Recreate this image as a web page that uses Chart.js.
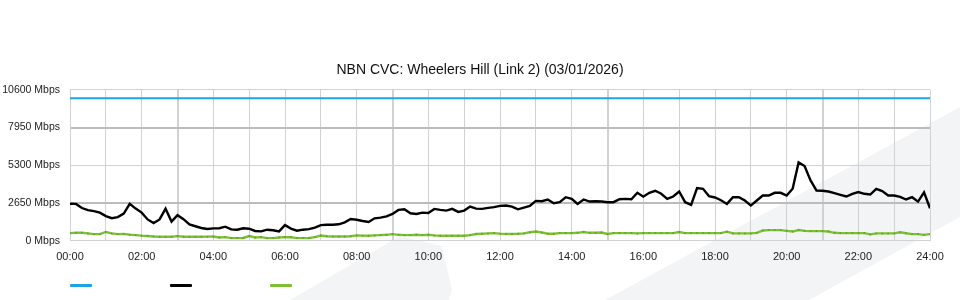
<!DOCTYPE html>
<html>
<head>
<meta charset="utf-8">
<title>NBN CVC: Wheelers Hill (Link 2)</title>
<script src="https://cdn.jsdelivr.net/npm/chart.js@4/dist/chart.umd.min.js"></script>
<style>
  html, body { margin:0; padding:0; background:#fff; }
  #wrap { position:relative; width:960px; height:300px; overflow:hidden; }
  .bg { position:absolute; left:0; top:0; width:960px; height:300px; background:#f3f4f6; }
  #bgA { clip-path: polygon(290px 300px, 400px 236px, 442px 246px, 452px 290px, 449px 300px); }
  #bgB { clip-path: polygon(605px 300px, 960px 107px, 960px 217px, 809px 300px); }
  #chart { position:absolute; left:0; top:0; }
  #legend { position:absolute; left:70px; top:284px; display:flex; }
  #legend span { display:block; width:22px; height:3px; margin-right:78px; border-radius:1px; }
</style>
</head>
<body>
<div id="wrap">
  <div class="bg" id="bgA"></div>
  <div class="bg" id="bgB"></div>
  <canvas id="chart" width="960" height="300"></canvas>
  <div id="legend"></div>
</div>
<script>
// samples every 10 minutes, 00:00 .. 24:00 (Mbps)
const STEP_MIN = 10;

const download = [
  2600,2590,2300,2150,2080,1980,
  1730,1590,1660,1910,2600,2260,
  1980,1500,1250,1500,2250,1350,
  1800,1520,1150,1020,900,830,
  870,880,990,800,780,880,
  850,690,660,780,740,660,
  1100,860,710,780,820,920,
  1100,1130,1130,1160,1300,1530,
  1480,1390,1320,1580,1625,1720,
  1885,2170,2210,1930,1885,1980,
  1955,2240,2170,2120,2240,2030,
  2120,2400,2260,2240,2310,2360,
  2450,2475,2400,2210,2330,2450,
  2800,2780,2900,2640,2710,3060,
  2945,2590,2900,2755,2780,2755,
  2710,2710,2920,2945,2920,3370,
  3100,3370,3510,3300,2945,3110,
  3460,2710,2520,3700,3650,3130,
  3040,2850,2590,3060,3060,2830,
  2475,2830,3180,3180,3370,3370,
  3180,3650,5500,5250,4240,3530,
  3510,3460,3350,3230,3110,3300,
  3420,3300,3250,3650,3490,3180,
  3180,3090,2900,3060,2750,3400,
  2285
];

const upload = [
  540,560,560,520,470,470,
  620,520,470,480,430,400,
  360,340,300,280,280,280,
  330,280,280,280,280,290,
  300,230,260,190,190,200,
  330,230,260,190,190,230,
  260,250,190,190,200,260,
  370,320,300,300,300,320,
  380,360,350,380,400,420,
  470,420,400,400,420,400,
  420,380,350,360,350,350,
  350,400,480,500,520,540,
  500,480,480,490,520,600,
  650,580,500,500,540,540,
  540,560,620,560,560,580,
  480,540,540,540,540,520,
  540,540,540,540,540,540,
  620,540,540,540,540,540,
  540,540,640,520,520,520,
  520,560,720,750,750,750,
  700,650,760,700,680,680,
  680,650,560,540,540,540,
  540,540,450,520,520,520,
  520,600,530,470,470,420,
  470
];

const capacity = 10000;

const hourLabels = ['00:00','02:00','04:00','06:00','08:00','10:00','12:00',
                    '14:00','16:00','18:00','20:00','22:00','24:00'];
const yTicks = [0, 2650, 5300, 7950, 10600];

const toXY = arr => arr.map((v, i) => ({ x: i * STEP_MIN, y: v }));

const FONT = "'Liberation Sans', Arial, sans-serif";
const grid = '#d2d2d2', gridMajor = '#bcbcbc';

const chart = new Chart(document.getElementById('chart'), {
  type: 'line',
  data: {
    datasets: [
      { label: 'Capacity', data: [{x:0, y:capacity}, {x:1440, y:capacity}],
        borderColor: '#1ea3e3', backgroundColor: '#1ea3e3', borderWidth: 2, pointRadius: 0 },
      { label: 'Download', data: toXY(download),
        borderColor: '#000', backgroundColor: '#000', borderWidth: 2.4, pointRadius: 0, tension: 0 },
      { label: 'Upload', data: toXY(upload),
        borderColor: '#7dc033', backgroundColor: '#7dc033', borderWidth: 2.4,
        pointRadius: 1, pointBorderWidth: 0, pointBackgroundColor: '#62a52a', tension: 0 }
    ]
  },
  options: {
    responsive: false, animation: false,
    layout: { padding: { left: 0, right: 0, top: 0, bottom: 26 } },
    plugins: {
      legend: { display: false },
      tooltip: { enabled: false },
      title: {
        display: true, text: 'NBN CVC: Wheelers Hill (Link 2) (03/01/2026)',
        color: '#111', font: { family: FONT, size: 14, weight: 'normal' },
        padding: { top: 62, bottom: 11 }
      }
    },
    scales: {
      x: {
        type: 'linear', min: 0, max: 1440,
        grid: {
          drawTicks: false,
          color: grid,
          lineWidth: c => (c.tick && c.tick.value % 360 === 180) ? 2 : 1,
        },
        border: { color: grid },
        ticks: {
          stepSize: 60, autoSkip: false, maxRotation: 0, padding: 10,
          color: '#222', font: { family: FONT, size: 11 },
          callback: v => (v % 120 === 0) ? hourLabels[v / 120] : ''
        }
      },
      y: {
        min: 0, max: 10600,
        afterFit: s => { s.width = 70; },
        afterBuildTicks: s => { s.ticks = yTicks.map(v => ({ value: v })); },
        grid: {
          drawTicks: false,
          color: c => (c.tick && (c.tick.value === 2650 || c.tick.value === 7950)) ? gridMajor : grid,
          lineWidth: c => (c.tick && (c.tick.value === 2650 || c.tick.value === 7950)) ? 2 : 1,
        },
        border: { color: grid },
        ticks: {
          padding: 10, color: '#222',
          font: { family: FONT, size: 10.5 },
          callback: v => v + ' Mbps'
        }
      },
      // empty right-hand gutter so the plot ends at 24:00 with room for the last label
      gutter: {
        position: 'right', min: 0, max: 1,
        afterFit: s => { s.width = 30; },
        grid: { display: false }, border: { display: false }, ticks: { display: false }
      }
    }
  }
});

// line-only legend under the chart, as in the source
const legend = document.getElementById('legend');
chart.data.datasets.forEach(ds => {
  const s = document.createElement('span');
  s.style.background = ds.borderColor;
  s.title = ds.label;
  legend.appendChild(s);
});
</script>
</body>
</html>
